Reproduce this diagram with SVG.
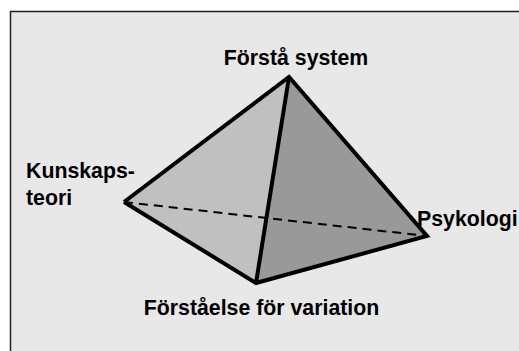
<svg xmlns="http://www.w3.org/2000/svg" width="519" height="351" viewBox="0 0 519 351">
<style>
.lbl{font-family:"Liberation Sans",Arial,sans-serif;font-weight:bold;font-size:21.3px;fill:#000}
.edge{fill:none;stroke:#000;stroke-width:4;stroke-linejoin:miter;stroke-linecap:butt}
</style>
<rect x="0" y="0" width="519" height="351" fill="#ffffff"/>
<rect id="frame" x="10.5" y="11.5" width="520" height="350" fill="#e8e8e8" stroke="#222" stroke-width="1.5"/>
<g id="faces">
<polygon id="face-left" points="289,77 124,202 256,283" fill="#c0c0c0"/>
<polygon id="face-right" points="289,77 256,283 427,236" fill="#999999"/>
</g>
<g id="connectors">
<line x1="124" y1="202" x2="427" y2="236" stroke="#000" stroke-width="2" stroke-dasharray="9,6"/>
<polyline class="edge" points="124,202 289,77 427,236 256,283 124,202"/>
<line class="edge" x1="289" y1="77" x2="256" y2="283"/>
</g>
<g id="node-forsta-system"><text class="lbl" x="296" y="65" text-anchor="middle">Förstå system</text></g>
<g id="node-kunskapsteori"><text class="lbl" x="26" y="178">Kunskaps-</text><text class="lbl" x="26" y="205">teori</text></g>
<g id="node-psykologi"><text class="lbl" x="417" y="226">Psykologi</text></g>
<g id="node-variation"><text class="lbl" x="261.5" y="315" text-anchor="middle">Förståelse för variation</text></g>
</svg>
